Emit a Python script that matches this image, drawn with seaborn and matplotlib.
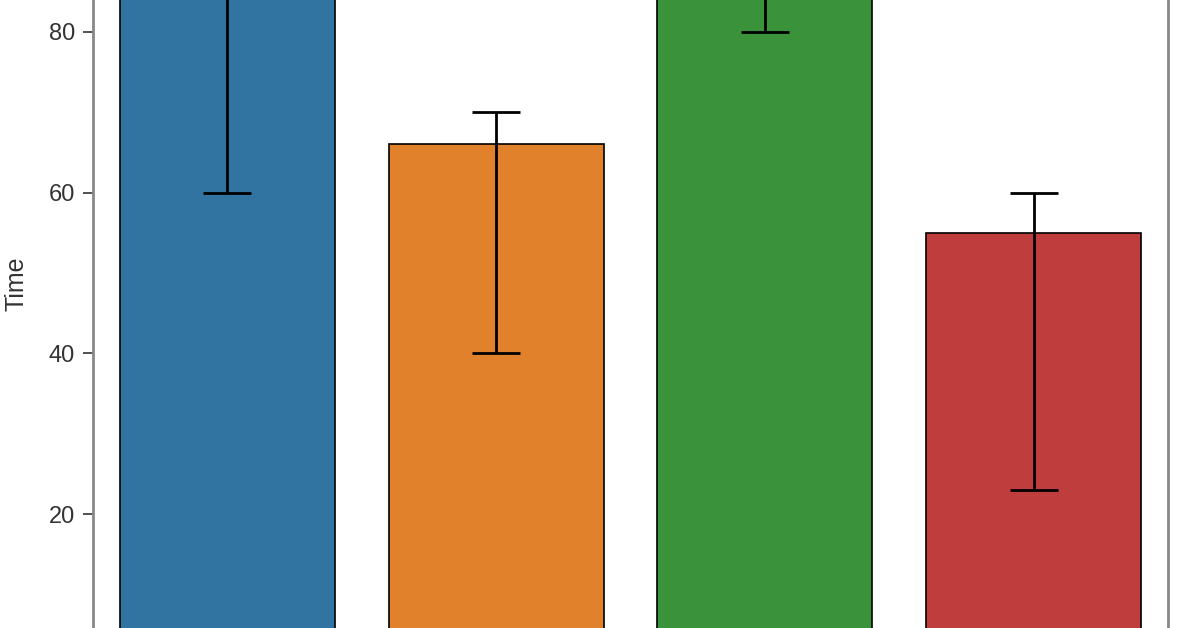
import numpy as np
import pandas as pd
import matplotlib
matplotlib.use("Agg")
import matplotlib.pyplot as plt
import seaborn as sb

# values (blue and green tops are cut off, estimated)
groups = ["A", "B", "C", "D"]
means = [95, 66, 95, 55]
err_low = [60, 40, 80, 23]
err_high = [130, 70, 110, 60]


def main():
    sb.set_style("ticks")
    plt.rcParams["font.family"] = ["Liberation Sans", "DejaVu Sans"]
    df = pd.DataFrame({"Group": groups, "Time": means})

    fig = plt.figure(figsize=(11.96, 6.28), dpi=100)
    ax = fig.add_axes([93 / 1196, 0, (1168 - 93) / 1196, 1])
    sb.barplot(data=df, x="Group", y="Time", hue="Group", palette="tab10",
               saturation=0.75, edgecolor="black", linewidth=1.2, ax=ax,
               legend=False, errorbar=None)
    lo = np.array(means) - np.array(err_low)
    hi = np.array(err_high) - np.array(means)
    ax.errorbar(np.arange(len(groups)), means, yerr=[lo, hi], fmt="none",
                ecolor="black", elinewidth=2, capsize=17, capthick=2)

    ax.set_ylim(5.81, 83.98)
    ax.set_xlim(-0.5, 3.5)
    ax.set_yticks([20, 40, 60, 80])
    ax.tick_params(axis="y", labelsize=17, length=7, width=1.2, pad=6,
                   colors="#333333")
    ax.set_ylabel("Time", fontsize=18, color="#333333")
    ax.yaxis.set_label_coords((29 - 93) / 1075, 1 - 284 / 628)
    ax.set_xlabel("")
    ax.set_xticks([])
    for s in ["top", "bottom"]:
        ax.spines[s].set_visible(False)
    for s in ["left", "right"]:
        ax.spines[s].set_color("#888888")
        ax.spines[s].set_linewidth(2)
    fig.savefig("out.png", dpi=100)


if __name__ == "__main__":
    main()
